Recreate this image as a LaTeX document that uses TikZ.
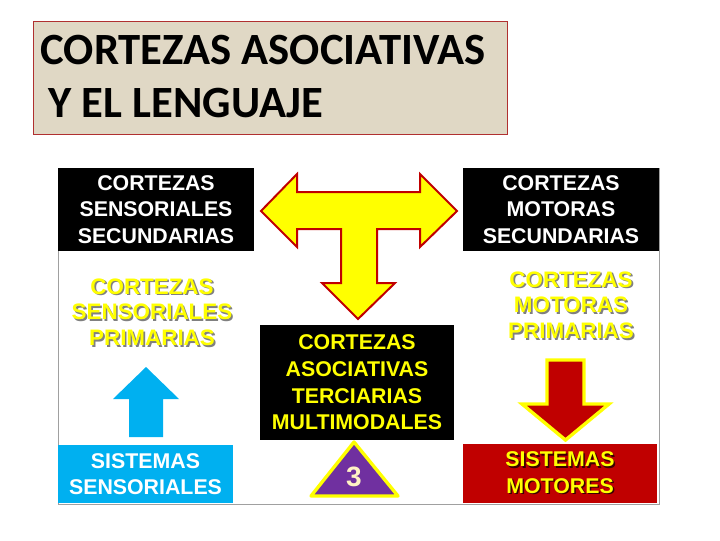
\documentclass[tikz,border=0pt]{standalone}
\usepackage{fontspec}
\setmainfont{Liberation Sans}
\newfontfamily\titlefont{Carlito}
\newdimen\px \px=0.75pt
\definecolor{linen}{RGB}{224,216,197}
\definecolor{titlered}{RGB}{176,48,48}
\definecolor{ayellow}{RGB}{255,255,0}
\definecolor{adred}{RGB}{192,0,0}
\definecolor{askyblue}{RGB}{0,176,240}
\definecolor{apurple}{RGB}{112,48,160}
\definecolor{acream}{RGB}{255,242,196}
\definecolor{framegray}{RGB}{160,160,160}
\newcommand{\shd}[2]{\makebox[0pt][l]{\hspace{1.2pt}\raisebox{-1.2pt}{\color{#1}#2}}#2}

\tikzset{every picture/.style={line width=0.75pt}}
\tikzset{
	slidetext/.style={inner sep=0pt, align=center, font=\fontsize{16}{20}\selectfont\bfseries},
	midtext/.style={slidetext, text=ayellow, font=\fontsize{16.8}{19.2}\selectfont\bfseries},
	darkbox/.style={slidetext, fill=black, minimum width=196\px, minimum height=83\px},
	titlebox/.style={draw=titlered, fill=linen, minimum width=474\px, minimum height=113\px},
	titletext/.style={anchor=base west, inner sep=0pt, font=\titlefont\bfseries\fontsize{33.5}{38}\selectfont},
}

\begin{document}
\begin{tikzpicture}[x=0.75pt,y=0.75pt,yscale=-1,xscale=1]
	\useasboundingbox (0,0) rectangle (720,540);

	% Title
	\node[titlebox] (titlebox) at (270,77.5) {};
	\node[titletext] (title1) at (40,64) {CORTEZAS ASOCIATIVAS};
	\node[titletext] (title2) at (48,117) {Y EL LENGUAJE};

	% Frame of the panel
	\draw [color=framegray]  (58,168) -- (58,504) -- (659,504) -- (659,168) ;

	% Text Node
	\node[darkbox, text=white] (ssec) at (156,209.5) {CORTEZAS\\SENSORIALES\\SECUNDARIAS};
	% Text Node
	\node[darkbox, text=white] (msec) at (561,209.5) {CORTEZAS\\MOTORAS\\SECUNDARIAS};
	% Text Node
	\node[darkbox, text=ayellow, minimum width=194\px, minimum height=115\px] (assoc) at (357,382.5) {CORTEZAS\\ASOCIATIVAS\\TERCIARIAS\\MULTIMODALES};
	% Text Node
	\node[midtext] (sprim) at (152,313) {\shd{gray}{CORTEZAS}\\\shd{gray}{SENSORIALES}\\\shd{gray}{PRIMARIAS}};
	% Text Node
	\node[midtext] (mprim) at (571,306) {\shd{gray}{CORTEZAS}\\\shd{gray}{MOTORAS}\\\shd{gray}{PRIMARIAS}};
	% Text Node
	\node[slidetext, fill=askyblue, text=white, minimum width=175\px, minimum height=58\px] (ssis) at (145.5,474) {SISTEMAS\\SENSORIALES};
	% Text Node
	\node[slidetext, fill=adred, text=ayellow, minimum width=194\px, minimum height=59\px] (msis) at (560,473.5) {\shd{black!70!adred}{SISTEMAS}\\\shd{black!70!adred}{MOTORES}};

	% T Arrow
	\draw [color=adred, fill=ayellow, line width=1.5, line join=miter] (261,211) -- (297,174) -- (297,192) -- (420,192) -- (420,174) -- (457,211) -- (420,247) -- (420,229) -- (377,229) -- (377,283) -- (395,283) -- (358,319) -- (322,283) -- (341,283) -- (341,229) -- (297,229) -- (297,247) -- cycle ;
	% Up Arrow
	\fill [color=askyblue] (146,367) -- (179,399) -- (163,399) -- (163,437) -- (129,437) -- (129,399) -- (113,399) -- cycle ;
	% Down Arrow
	\draw [color=ayellow, fill=adred, line width=2.5] (547,360) -- (584,360) -- (584,404) -- (609,404) -- (565.5,440) -- (522,404) -- (547,404) -- cycle ;
	% Triangle
	\draw [color=ayellow, fill=apurple, line width=2.5, line join=round] (354,442) -- (398,496) -- (311,496) -- cycle ;
	\node[inner sep=0pt, text=acream, font=\fontsize{21}{21}\selectfont\bfseries] (three) at (354,477) {3};

\end{tikzpicture}
\end{document}
